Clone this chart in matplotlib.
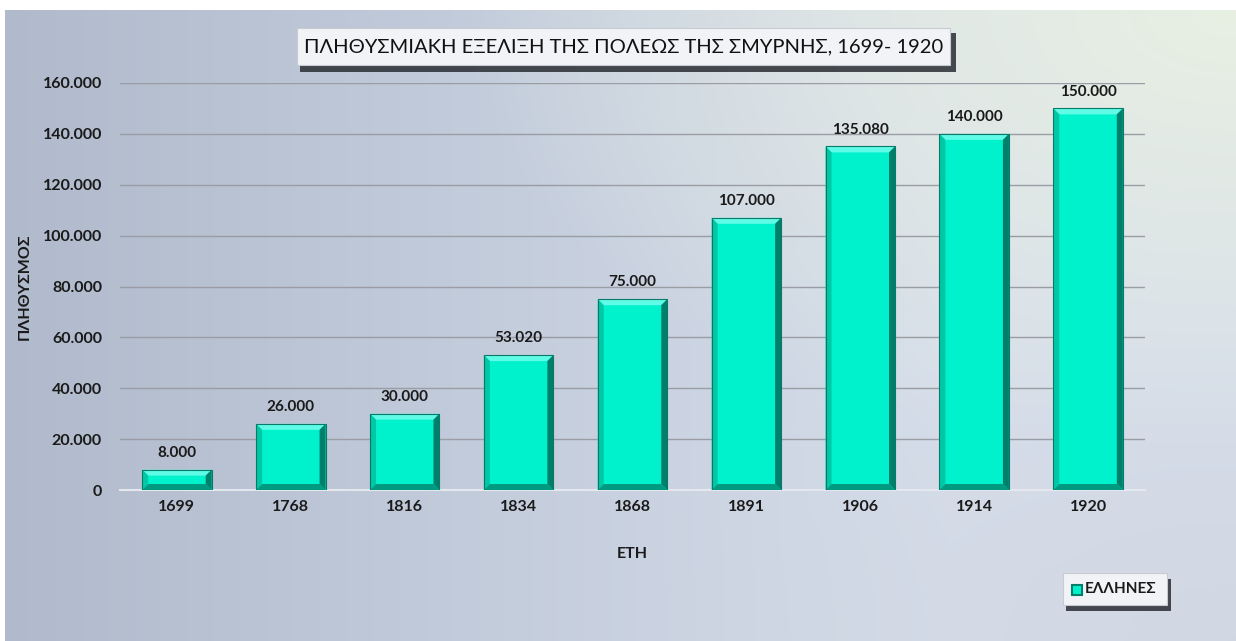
import numpy as np
import matplotlib
matplotlib.use("Agg")
import matplotlib.pyplot as plt
from matplotlib.patches import Rectangle, Polygon
from matplotlib.ticker import FuncFormatter

years = ["1699", "1768", "1816", "1834", "1868", "1891", "1906", "1914", "1920"]
population = [8000, 26000, 30000, 53020, 75000, 107000, 135080, 140000, 150000]
yticks = [0, 20000, 40000, 60000, 80000, 100000, 120000, 140000, 160000]
title = "ΠΛΗΘΥΣΜΙΑΚΗ ΕΞΕΛΙΞΗ ΤΗΣ ΠΟΛΕΩΣ ΤΗΣ ΣΜΥΡΝΗΣ, 1699- 1920"
series_name = "ΕΛΛΗΝΕΣ"
xlabel = "ΕΤΗ"
ylabel = "ΠΛΗΘΥΣΜΟΣ"

FONT = ["Lato", "DejaVu Sans"]
plt.rcParams["font.family"] = FONT

W, H, DPI = 1236, 641, 100
fig = plt.figure(figsize=(W / DPI, H / DPI), dpi=DPI)
fig.patch.set_facecolor("white")

# background gradient (chart area)
bg = fig.add_axes([5 / W, 0, 1 - 5 / W, 1 - 10 / H], zorder=-10)
ny, nx = 200, 400
xx, yy = np.meshgrid(np.linspace(0, 1, nx), np.linspace(1, 0, ny))
left = np.array([0.69, 0.73, 0.80])
center = np.array([0.84, 0.87, 0.92])
tr = np.array([0.91, 0.94, 0.89])
t = np.clip(xx * 1.3, 0, 1)[..., None]
img = left * (1 - t) + center * t
d = np.clip(1 - np.hypot((xx - 1.0) * 1.6, (yy - 1.0) * 1.4), 0, 1)[..., None]
img = img * (1 - d) + tr * d
br = np.clip(1 - np.hypot((xx - 1.0) * 2.0, (yy - 0.0) * 2.0), 0, 1)[..., None]
img = img * (1 - 0.5 * br) + np.array([0.80, 0.82, 0.86]) * 0.5 * br
bg.imshow(img, aspect="auto", extent=[0, 1, 0, 1], interpolation="bilinear")
bg.set_axis_off()

ax = fig.add_axes([120 / W, 1 - 490 / H, (1145 - 120) / W, (490 - 83) / H])
ax.patch.set_alpha(0)
x = np.arange(len(years))
ax.set_xlim(-0.5, len(years) - 0.5)
ax.set_ylim(0, 160000)
ax.set_yticks(yticks)
ax.yaxis.set_major_formatter(FuncFormatter(lambda v, p: f"{int(v):,}".replace(",", ".")))
ax.set_xticks(x)
ax.set_xticklabels(years)
ax.grid(axis="y", color="#9a9ea4", lw=1)
ax.set_axisbelow(True)
for s in ["top", "right", "left"]:
    ax.spines[s].set_visible(False)
ax.spines["bottom"].set_color("#e4e8ee")
ax.spines["bottom"].set_linewidth(1.5)
ax.tick_params(length=0, labelsize=11.5, colors="#1a1a1a")
ax.tick_params(axis="y", pad=13)
ax.tick_params(axis="x", pad=7)
for lab in ax.get_xticklabels() + ax.get_yticklabels():
    lab.set_fontweight("bold")
ax.set_xlabel(xlabel, fontsize=11.5, fontweight="bold", color="#1a1a1a", labelpad=24)
ax.set_ylabel(ylabel, fontsize=11.5, fontweight="bold", color="#1a1a1a", labelpad=8)

face = "#00f2cc"
bars = ax.bar(x, population, width=0.61, color=face, edgecolor="none", zorder=3)

# bevel effect
fig.canvas.draw()
inv = ax.transData.inverted()
bev = 6
for b in bars:
    x0, y0 = b.get_x(), b.get_y()
    x1, y1 = x0 + b.get_width(), y0 + b.get_height()
    (px0, py0), (px1, py1) = ax.transData.transform([(x0, y0), (x1, y1)])
    bv = min(bev, (py1 - py0) / 2.2)
    def P(pts):
        return inv.transform(pts)
    outer = [(px0, py0), (px1, py0), (px1, py1), (px0, py1)]
    inner = [(px0 + bv, py0 + bv), (px1 - bv, py0 + bv), (px1 - bv, py1 - bv), (px0 + bv, py1 - bv)]
    ax.add_patch(Polygon(P([outer[3], outer[2], inner[2], inner[3]]), closed=True,
                         fc="#5ffbe6", ec="none", zorder=4))
    ax.add_patch(Polygon(P([outer[0], outer[3], inner[3], inner[0]]), closed=True,
                         fc="#00c8a6", ec="none", zorder=4))
    ax.add_patch(Polygon(P([outer[1], outer[2], inner[2], inner[1]]), closed=True,
                         fc="#007f6a", ec="none", zorder=4))
    ax.add_patch(Polygon(P([outer[0], outer[1], inner[1], inner[0]]), closed=True,
                         fc="#009a80", ec="none", zorder=4))
    ax.add_patch(Polygon(P(outer), closed=True, fc="none", ec="#0a7a68", lw=0.8, zorder=5))

for xi, v in zip(x, population):
    ax.annotate(f"{v:,}".replace(",", "."), (xi, v), xytext=(0, 7), textcoords="offset points",
                ha="center", va="bottom", fontsize=11, fontweight="bold", color="#1a1a1a")

def fig_rect(x0, y0, x1, y1, **kw):
    fig.patches.append(Rectangle((x0 / W, 1 - y1 / H), (x1 - x0) / W, (y1 - y0) / H,
                                 transform=fig.transFigure, figure=fig, **kw))

# title box with shadow
fig_rect(300, 33, 956, 72, fc="#2a2d33", ec="none", alpha=0.85, zorder=1)
fig_rect(297, 28, 950, 65, fc="#f2f3f6", ec="#c8ccd2", lw=0.8, zorder=2)
fig.text(623.5 / W, 1 - 46.5 / H, title, ha="center", va="center", fontsize=14.5,
         color="#111111", zorder=3)

# legend with shadow
fig_rect(1066, 579, 1171, 611, fc="#2a2d33", ec="none", alpha=0.85, zorder=1)
fig_rect(1063, 573, 1167, 605, fc="#f2f3f6", ec="#c8ccd2", lw=0.8, zorder=2)
fig.patches.append(Rectangle((1072 / W, 1 - 595 / H), 10 / W, 10 / H, transform=fig.transFigure,
                             figure=fig, fc=face, ec="#007f6a", lw=1.5, zorder=3))
fig.text(1085 / W, 1 - 589 / H, series_name, ha="left", va="center", fontsize=11,
         fontweight="bold", color="#1a1a1a", zorder=3)

fig.savefig("out.png", dpi=DPI)
